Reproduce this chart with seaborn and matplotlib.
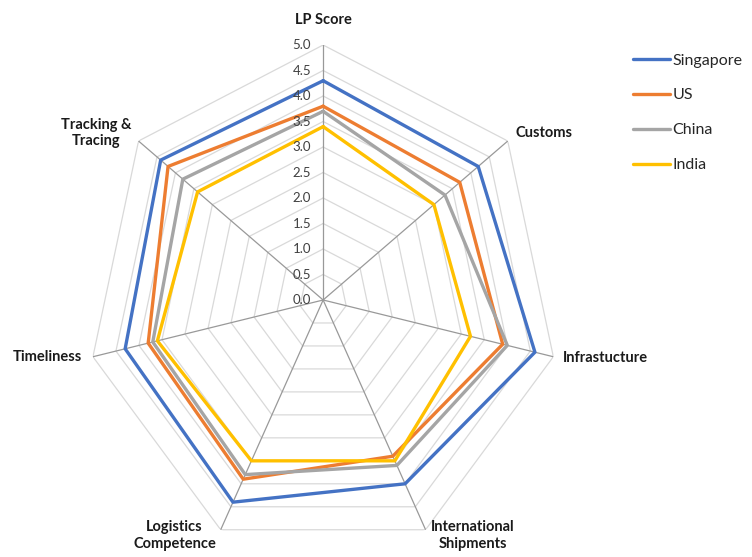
import numpy as np
import pandas as pd
import matplotlib
matplotlib.use("Agg")
import matplotlib.pyplot as plt
import seaborn as sns

# datos (LPI)
categorias = ['LP Score', 'Customs', 'Infrastucture', 'International\nShipments',
              'Logistics\nCompetence', 'Timeliness', 'Tracking &\nTracing']
paises = ['Singapore', 'US', 'China', 'India']
singapore = [4.3, 4.2, 4.6, 4.0, 4.4, 4.3, 4.4]
us = [3.8, 3.7, 3.9, 3.4, 3.9, 3.8, 4.2]
china = [3.7, 3.3, 4.0, 3.6, 3.8, 3.7, 3.8]
india = [3.4, 3.0, 3.2, 3.5, 3.5, 3.6, 3.4]
ticks = [0.0, 0.5, 1.0, 1.5, 2.0, 2.5, 3.0, 3.5, 4.0, 4.5, 5.0]
colores = {'Singapore': '#4472C4', 'US': '#ED7D31', 'China': '#A5A5A5', 'India': '#FFC000'}

sns.set_theme(style='white')
plt.rcParams['font.family'] = ['Lato', 'DejaVu Sans']

n = len(categorias)
angulos = np.linspace(0, 2 * np.pi, n, endpoint=False)
ang_cerrado = np.append(angulos, angulos[0])

# tabla larga para seaborn
filas = []
for pais, vals in zip(paises, [singapore, us, china, india]):
    for i, (t, v) in enumerate(zip(ang_cerrado, vals + [vals[0]])):
        filas.append({'theta': t, 'valor': v, 'pais': pais, 'orden': i})
df = pd.DataFrame(filas)

fig = plt.figure(figsize=(7.52, 5.57), dpi=100)
ax = fig.add_axes([0.1157, 0.0036, 0.628, 0.9156], projection='polar')
ax.set_theta_zero_location('N')
ax.set_theta_direction(-1)
ax.set_aspect('auto')
ax.set_ylim(0, 5)
ax.grid(False)
ax.set_xticks([])
ax.set_yticks([])
ax.spines['polar'].set_visible(False)

# rejilla heptagonal
for r in ticks[1:]:
    ax.plot(ang_cerrado, [r] * len(ang_cerrado), color='#D9D9D9', lw=0.9, zorder=1)
for t in angulos:
    ax.plot([t, t], [0, 5], color='#999999', lw=0.9, zorder=2)

sns.lineplot(data=df, x='theta', y='valor', hue='pais', hue_order=paises,
             palette=colores, sort=False, estimator=None, units='pais',
             lw=2.4, ax=ax, legend=False, zorder=3)
ax.set_xlabel('')
ax.set_ylabel('')

# etiquetas del eje radial
for r in ticks:
    ax.annotate(f'{r:.1f}', xy=(0, r), xytext=(-12, 0), textcoords='offset pixels',
                ha='right', va='center', fontsize=9.5, color='#404040')

# etiquetas de categorias
offs = [(0, 25, 'center'), (8, 8, 'left'), (10, -1, 'left'), (47, -6, 'center'),
        (-46, -6, 'center'), (-11, 0, 'right'), (-42, 8, 'center')]
for t, cat, (dx, dy, ha) in zip(angulos, categorias, offs):
    ax.annotate(cat, xy=(t, 5), xytext=(dx, dy), textcoords='offset pixels',
                ha=ha, va='center', fontsize=10.5, fontweight='bold', color='#1a1a1a',
                linespacing=1.25, annotation_clip=False)

handles = [plt.Line2D([], [], color=colores[p], lw=2.4) for p in paises]
fig.legend(handles, paises, loc='upper left', bbox_to_anchor=(0.823, 0.93),
           frameon=False, fontsize=11.5, handlelength=2.3, handletextpad=0.15,
           labelspacing=1.3)

fig.savefig('out.png', dpi=100)
